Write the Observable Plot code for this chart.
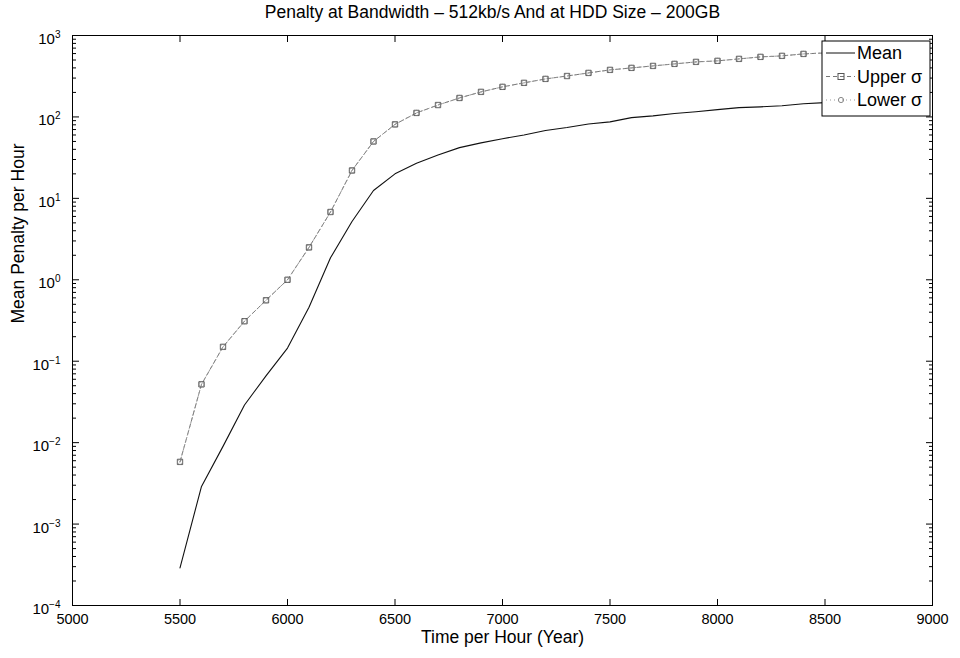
<!DOCTYPE html>
<html><head><meta charset="utf-8">
<script src="https://cdn.jsdelivr.net/npm/d3@7"></script>
<script src="https://cdn.jsdelivr.net/npm/@observablehq/plot@0.6"></script>
<style>
html,body{margin:0;padding:0;background:#fff;}
#chart{width:960px;height:658px;}
</style>
</head><body><div id="chart"></div>
<script>
// ---- data ----
const titleText = "Penalty at Bandwidth \u2013 512kb/s And at HDD Size \u2013 200GB";
const xLabel = "Time per Hour (Year)";
const yLabel = "Mean Penalty per Hour";
const seriesNames = ["Mean", "Upper \u03c3", "Lower \u03c3"];

const years = [5500,5600,5700,5800,5900,6000,6100,6200,6300,6400,6500,6600,6700,6800,6900,7000,7100,7200,7300,7400,7500,7600,7700,7800,7900,8000,8100,8200,8300,8400,8500];
const meanValues = [0.00029,0.0029,0.009,0.029,0.066,0.145,0.46,1.86,5.2,12.5,20,27,34,42,48,54,60,68,74,82,87,98,103,110,116,123,130,133,137,145,150];
const upperValues = [0.0058,0.052,0.15,0.31,0.56,1.0,2.5,6.8,22,50,81,112,140,171,203,234,262,293,318,347,378,400,423,448,474,488,516,546,562,594,611];
const lowerValues = [0.0058,0.052,0.15,0.31,0.56,1.0,2.5,6.8,22,50,81,112,140,171,203,234,262,293,318,347,378,400,423,448,474,488,516,546,562,594,611];

const xTicks = [5000,5500,6000,6500,7000,7500,8000,8500,9000];
const yTicks = [1e-4,1e-3,1e-2,1e-1,1e0,1e1,1e2,1e3];
const yMinorMultipliers = [2,3,4,5,6,7,8,9];

// ---- build tables ----
const meanData = years.map((x,i)=>({x, y: meanValues[i]}));
const upperData = years.map((x,i)=>({x, y: upperValues[i]}));
const lowerData = years.map((x,i)=>({x, y: lowerValues[i]}));
const yMinor = yTicks.slice(0,-1).flatMap(d => yMinorMultipliers.map(m => d*m));

const font = "'Liberation Sans', Arial, Helvetica, sans-serif";
const axisFmt = d => "10^" + Math.round(Math.log10(d));

const plot = Plot.plot({
  width: 960, height: 658,
  marginLeft: 72, marginRight: 28, marginTop: 35, marginBottom: 53,
  style: {fontFamily: font, fontSize: "14px", color: "#000", background: "#fff", overflow: "visible"},
  x: {domain: [5000, 9000]},
  y: {type: "log", domain: [1e-4, 1e3]},
  marks: [
    Plot.frame({stroke: "#000", strokeWidth: 1}),
    // x axis labels
    Plot.axisX({anchor: "bottom", ticks: xTicks, tickSize: 0, tickPadding: 8, tickFormat: d => String(d), label: null, fontSize: 14.5}),
    Plot.axisX({anchor: "bottom", ticks: xTicks, tickSize: -6, tickFormat: () => "", label: null}),
    Plot.axisX({anchor: "top", ticks: xTicks, tickSize: -6, tickFormat: () => "", label: null}),
    // y axis labels
    Plot.axisY({anchor: "left", ticks: yTicks, tickSize: 0, tickPadding: 12, tickFormat: axisFmt, label: null, fontSize: 15}),
    Plot.axisY({anchor: "left", ticks: yTicks, tickSize: -7, tickFormat: () => "", label: null}),
    Plot.axisY({anchor: "left", ticks: yMinor, tickSize: -4, tickFormat: () => "", label: null}),
    Plot.axisY({anchor: "right", ticks: yTicks, tickSize: -7, tickFormat: () => "", label: null}),
    Plot.axisY({anchor: "right", ticks: yMinor, tickSize: -4, tickFormat: () => "", label: null}),
    // series
    Plot.line(upperData, {x: "x", y: "y", stroke: "#777", strokeWidth: 1, strokeDasharray: "4,3"}),
    Plot.line(lowerData, {x: "x", y: "y", stroke: "#999", strokeWidth: 1, strokeDasharray: "1,3"}),
    Plot.dot(upperData, {x: "x", y: "y", symbol: "square", r: 3, stroke: "#555", strokeWidth: 1, fill: "none"}),
    Plot.dot(lowerData, {x: "x", y: "y", symbol: "circle", r: 2.6, stroke: "#888", strokeWidth: 0.8, fill: "none"}),
    Plot.line(meanData, {x: "x", y: "y", stroke: "#111", strokeWidth: 1.1}),
    // texts
    Plot.text([titleText], {frameAnchor: "top", lineAnchor: "middle", text: d => d, dy: -23, dx: -10, fontSize: 17.5, fill: "#000"}),
    Plot.text([xLabel], {frameAnchor: "bottom", lineAnchor: "middle", text: d => d, dy: 32, fontSize: 17.5, fill: "#000"}),
    Plot.text([yLabel], {frameAnchor: "left", lineAnchor: "middle", text: d => d, rotate: -90, dx: -54, dy: 3, fontSize: 17.5, fill: "#000"})
  ]
});

// superscript exponents on the log axis labels
d3.select(plot).selectAll('[aria-label="y-axis tick label"] text').each(function() {
  const t = this.textContent;
  const m = t.match(/^10\^(-?\d+)$/);
  if (!m) return;
  const sel = d3.select(this);
  sel.text(null);
  sel.append("tspan").text("10");
  sel.append("tspan").attr("dy", "-0.6em").attr("font-size", "10px").text(m[1].replace("-", "\u2212"));
  sel.attr("dy", "0.25em");
});

// legend (MATLAB style box)
const svg = d3.select(plot);
const lg = svg.append("g").attr("font-family", font).attr("font-size", 18).attr("text-anchor", "start");
const bx = 822, by = 41, bw = 108, bh = 75;
lg.append("rect").attr("x", bx).attr("y", by).attr("width", bw).attr("height", bh).attr("fill", "#fff").attr("stroke", "#000");
const rows = [
  {name: seriesNames[0], dash: null, stroke: "#111", symbol: null},
  {name: seriesNames[1], dash: "4,3", stroke: "#777", symbol: "square"},
  {name: seriesNames[2], dash: "1,3", stroke: "#999", symbol: "circle"}
];
rows.forEach((r, i) => {
  const yy = by + 12 + i * 23.5;
  lg.append("line").attr("x1", bx + 4).attr("x2", bx + 33).attr("y1", yy).attr("y2", yy)
    .attr("stroke", r.stroke).attr("stroke-dasharray", r.dash);
  if (r.symbol === "square") lg.append("rect").attr("x", bx + 16).attr("y", yy - 3).attr("width", 6).attr("height", 6).attr("fill", "none").attr("stroke", "#555");
  if (r.symbol === "circle") lg.append("circle").attr("cx", bx + 19).attr("cy", yy).attr("r", 2.6).attr("fill", "none").attr("stroke", "#888");
  lg.append("text").attr("x", bx + 35).attr("y", yy).attr("dy", "0.35em").attr("text-anchor", "start").attr("fill", "#000").text(r.name);
});

document.getElementById("chart").appendChild(plot);
</script>
</body></html>
